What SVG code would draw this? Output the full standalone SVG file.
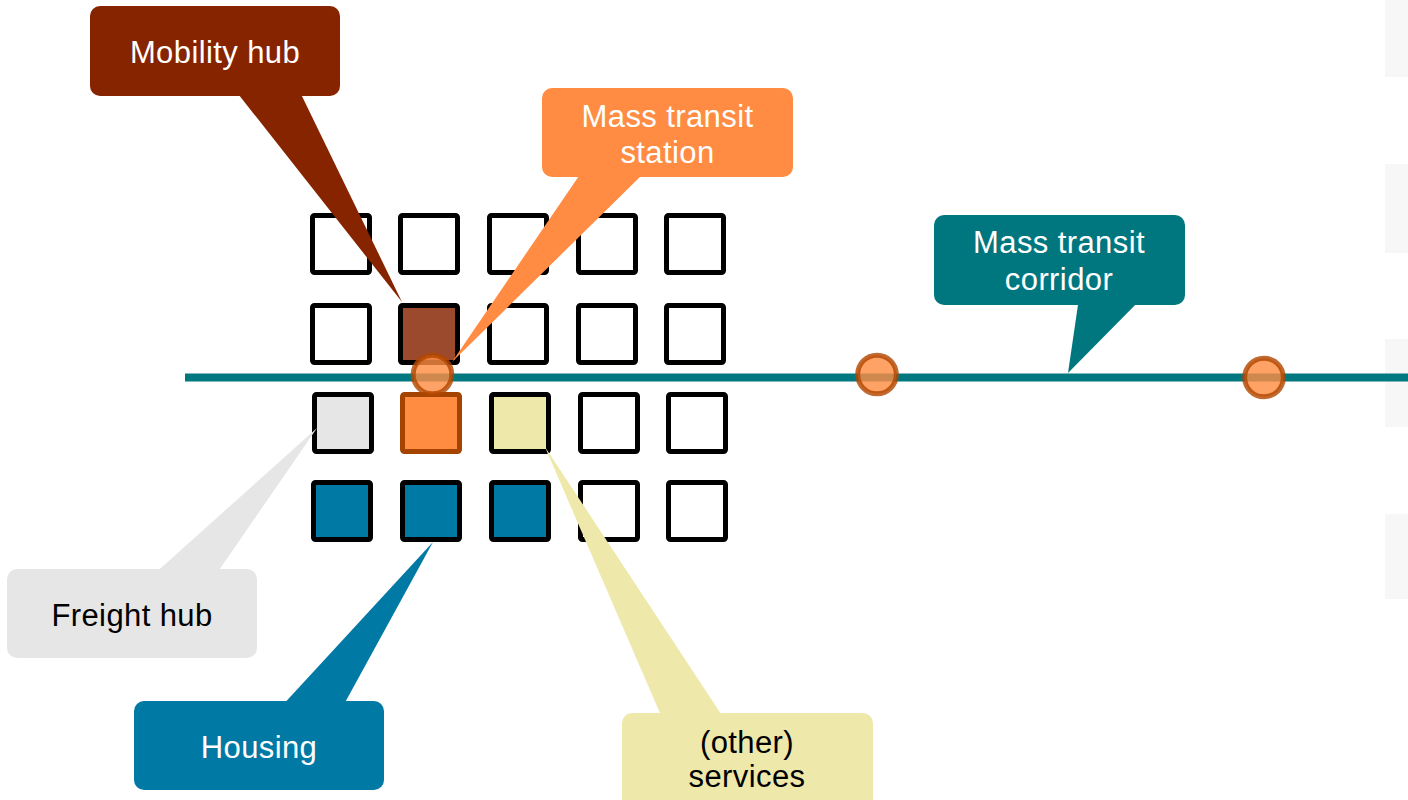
<svg xmlns="http://www.w3.org/2000/svg" width="1408" height="800" viewBox="0 0 1408 800">
  <style>
    .lbl { font-family: "Liberation Sans", Arial, sans-serif; font-size: 31px; letter-spacing: 0.4px; text-anchor: middle; }
    .w { fill: #FFFFFF; }
    .k { fill: #000000; }
    .cell { fill: #FFFFFF; stroke: #000000; stroke-width: 5; }
    .stop { fill: #FF8D42; fill-opacity: 0.81; stroke: #B24600; stroke-opacity: 0.81; stroke-width: 5; }
    .thumb { fill: #F7F7F7; }
  </style>
  <rect width="1408" height="800" fill="#FFFFFF"/>

  <g id="thumbs">
    <rect class="thumb" x="1385" y="0" width="23" height="77"/>
    <rect class="thumb" x="1385" y="164" width="23" height="89"/>
    <rect class="thumb" x="1385" y="339" width="23" height="88"/>
    <rect class="thumb" x="1385" y="514" width="23" height="85"/>
  </g>

  <g id="grid">
    <rect class="cell" x="312.5" y="215.5" width="57" height="57" rx="2"/>
    <rect class="cell" x="400.5" y="215.5" width="57" height="57" rx="2"/>
    <rect class="cell" x="489.5" y="215.5" width="57" height="57" rx="2"/>
    <rect class="cell" x="578.5" y="215.5" width="57" height="57" rx="2"/>
    <rect class="cell" x="666.5" y="215.5" width="57" height="57" rx="2"/>

    <rect class="cell" x="312.5" y="305.5" width="57" height="57" rx="2"/>
    <rect id="mobility-cell" class="cell" style="fill:#9C4A2E" x="400.5" y="305.5" width="57" height="57" rx="2"/>
    <rect class="cell" x="489.5" y="305.5" width="57" height="57" rx="2"/>
    <rect class="cell" x="578.5" y="305.5" width="57" height="57" rx="2"/>
    <rect class="cell" x="666.5" y="305.5" width="57" height="57" rx="2"/>

    <rect id="freight-cell" class="cell" style="fill:#E6E6E6" x="314.5" y="394.5" width="57" height="57" rx="2"/>
    <rect id="station-cell" class="cell" style="fill:#FF8C40;stroke:#A54400" x="402.5" y="394.5" width="57" height="57" rx="2"/>
    <rect id="services-cell" class="cell" style="fill:#EEE8AA" x="491.5" y="394.5" width="57" height="57" rx="2"/>
    <rect class="cell" x="580.5" y="394.5" width="57" height="57" rx="2"/>
    <rect class="cell" x="668.5" y="394.5" width="57" height="57" rx="2"/>

    <rect class="cell" style="fill:#0079A5" x="313.5" y="482.5" width="57" height="57" rx="2"/>
    <rect class="cell" style="fill:#0079A5" x="402.5" y="482.5" width="57" height="57" rx="2"/>
    <rect class="cell" style="fill:#0079A5" x="491.5" y="482.5" width="57" height="57" rx="2"/>
    <rect class="cell" x="580.5" y="482.5" width="57" height="57" rx="2"/>
    <rect class="cell" x="668.5" y="482.5" width="57" height="57" rx="2"/>
  </g>

  <g id="connectors">
    <line id="transit-line" x1="185" y1="377.5" x2="1408" y2="377.5" stroke="#00787F" stroke-width="8"/>
  </g>

  <g id="stops">
    <circle class="stop" cx="432.5" cy="374.5" r="19.3"/>
    <circle class="stop" cx="877" cy="374.5" r="19.3"/>
    <circle class="stop" cx="1264" cy="377.5" r="19.3"/>
  </g>

  <g id="callout-mobility-hub">
    <polygon points="235,90 299,90 402,302" fill="#862400"/>
    <rect x="90" y="6" width="250" height="90" rx="10" fill="#862400"/>
    <text class="lbl w" x="215" y="63">Mobility hub</text>
  </g>

  <g id="callout-mass-transit-station">
    <polygon points="583,170 647,170 452,362" fill="#FF8C42"/>
    <rect x="542" y="88" width="251" height="89" rx="10" fill="#FF8C42"/>
    <text class="lbl w" x="667.5" y="127">Mass transit</text>
    <text class="lbl w" x="667.5" y="163">station</text>
  </g>

  <g id="callout-mass-transit-corridor">
    <polygon points="1079,298 1142,298 1068,373" fill="#00777F"/>
    <rect x="934" y="215" width="251" height="90" rx="10" fill="#00777F"/>
    <text class="lbl w" x="1059" y="253">Mass transit</text>
    <text class="lbl w" x="1059" y="290">corridor</text>
  </g>

  <g id="callout-freight-hub">
    <polygon points="152,576 215,576 317,428" fill="#E6E6E6"/>
    <rect x="7" y="569" width="250" height="89" rx="10" fill="#E6E6E6"/>
    <text class="lbl k" x="132" y="626">Freight hub</text>
  </g>

  <g id="callout-housing">
    <polygon points="280,708 342,708 433,542" fill="#0079A5"/>
    <rect x="134" y="701" width="250" height="89" rx="10" fill="#0079A5"/>
    <text class="lbl w" x="259" y="758">Housing</text>
  </g>

  <g id="callout-services">
    <polygon points="663,720 725,720 545,447" fill="#EEE8AA"/>
    <rect x="622" y="713" width="251" height="100" rx="10" fill="#EEE8AA"/>
    <text class="lbl k" x="747" y="753">(other)</text>
    <text class="lbl k" x="747" y="787">services</text>
  </g>
</svg>
